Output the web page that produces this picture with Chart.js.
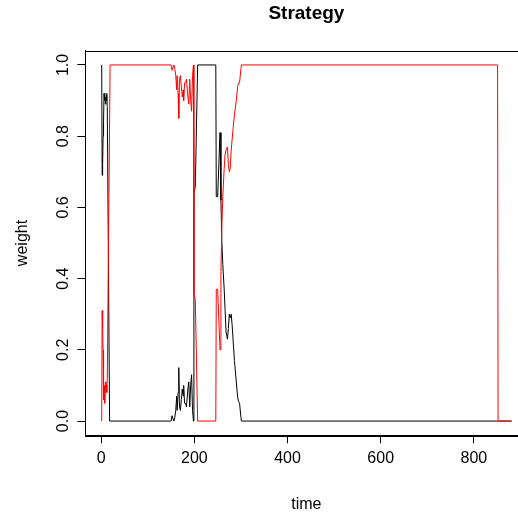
<!DOCTYPE html>
<html>
<head>
<meta charset="utf-8">
<title>Strategy</title>
<script src="https://cdn.jsdelivr.net/npm/chart.js@4.4.1/dist/chart.umd.min.js"></script>
<style>
  html, body { margin: 0; padding: 0; background: #fff; overflow: hidden; }
  #wrap { width: 518px; height: 514px; overflow: hidden; }
</style>
</head>
<body>
<div id="wrap"><canvas id="chart" width="530" height="514"></canvas></div>
<script>
// time steps where the weights change
const time = [
  1, 2, 3, 4, 5, 6, 7, 8, 9, 10, 11, 12, 13, 18, 19,
  150, 152, 154, 156, 158, 160, 162, 163, 165, 166.5, 168, 170, 172, 174, 176, 177,
  179, 181, 183, 186, 188, 190, 192, 194, 196, 198, 199, 202, 207,
  246, 247, 250, 255, 257, 259, 261, 264, 266, 268, 271, 273, 275, 277, 279, 281,
  283, 286, 290, 293, 295, 297, 300, 301,
  851, 852, 881
];
const blackWeight = [
  1.00, 0.69, 0.72, 0.80, 0.84, 0.92, 0.90, 0.92, 0.89, 0.91, 0.90, 0.92, 0.88, 0.00, 0.00,
  0.00, 0.015, 0.015, 0.00, 0.01, 0.03, 0.07, 0.03, 0.08, 0.15, 0.04, 0.03, 0.06, 0.09, 0.07, 0.10,
  0.05, 0.05, 0.04, 0.09, 0.11, 0.04, 0.10, 0.13, 0.03, 0.00, 0.64, 0.66, 1.00,
  1.00, 0.63, 0.63, 0.81, 0.62, 0.50, 0.44, 0.37, 0.31, 0.25, 0.23, 0.26, 0.30, 0.29, 0.30, 0.27,
  0.23, 0.17, 0.11, 0.065, 0.055, 0.05, 0.01, 0.00,
  0.00, 0.00, 0.00
];
const redWeight = [
  0.00, 0.31, 0.26, 0.20, 0.06, 0.08, 0.10, 0.05, 0.11, 0.09, 0.10, 0.08, 0.12, 0.85, 1.00,
  1.00, 0.985, 0.985, 1.00, 0.99, 0.97, 0.93, 0.97, 0.92, 0.85, 0.96, 0.97, 0.94, 0.91, 0.93, 0.90,
  0.95, 0.95, 0.96, 0.91, 0.89, 0.96, 0.90, 0.87, 0.97, 1.00, 0.36, 0.34, 0.00,
  0.00, 0.37, 0.37, 0.20, 0.42, 0.55, 0.63, 0.71, 0.75, 0.76, 0.77, 0.72, 0.70, 0.71, 0.76, 0.79,
  0.82, 0.86, 0.90, 0.94, 0.95, 0.95, 0.99, 1.00,
  1.00, 0.00, 0.00
];
const xTicks = [0, 200, 400, 600, 800];
const yTicks = [0, 0.2, 0.4, 0.6, 0.8, 1.0];
const yTickLabels = ['0.0', '0.2', '0.4', '0.6', '0.8', '1.0'];

const FONT = "'Liberation Sans', Arial, Helvetica, sans-serif";

function toPoints(ws) {
  return time.map((t, i) => ({ x: t, y: ws[i] }));
}

// R style box, y labels parallel to the axis, main title
const boxPlugin = {
  id: 'rbox',
  afterDraw(chart) {
    const { ctx, chartArea: a, scales } = chart;
    ctx.save();
    ctx.strokeStyle = '#000';
    ctx.lineWidth = 1;
    ctx.strokeRect(Math.round(a.left) + 0.5, Math.round(a.top) + 0.5,
      Math.round(a.right - a.left), Math.round(a.bottom - a.top));

    ctx.fillStyle = '#000';
    ctx.font = '16px ' + FONT;
    ctx.textAlign = 'center';
    ctx.textBaseline = 'alphabetic';
    yTicks.forEach((v, i) => {
      const y = scales.y.getPixelForValue(v);
      ctx.save();
      ctx.translate(68, y);
      ctx.rotate(-Math.PI / 2);
      ctx.fillText(yTickLabels[i], 0, 0);
      ctx.restore();
    });

    ctx.font = 'bold 19px ' + FONT;
    ctx.fillText('Strategy', (a.left + a.right) / 2, 19);
    ctx.restore();
  }
};

new Chart(document.getElementById('chart'), {
  type: 'line',
  data: {
    datasets: [
      {
        label: 'red',
        data: toPoints(redWeight),
        borderColor: '#ff0000',
        borderWidth: 1,
        pointRadius: 0,
        tension: 0
      },
      {
        label: 'black',
        data: toPoints(blackWeight),
        borderColor: '#000000',
        borderWidth: 1,
        pointRadius: 0,
        tension: 0
      }
    ]
  },
  options: {
    responsive: false,
    animation: false,
    devicePixelRatio: 1,
    layout: { padding: { top: 50.7, right: 2.5, left: 0, bottom: 0 } },
    plugins: {
      legend: { display: false },
      tooltip: { enabled: false },
      title: { display: false }
    },
    scales: {
      x: {
        type: 'linear',
        min: -34.2,
        max: 915.2,
        afterBuildTicks: s => { s.ticks = xTicks.map(v => ({ value: v })); },
        afterFit: s => { s.height = 78.7; },
        grid: { display: true, drawOnChartArea: false, drawTicks: true, tickLength: 8, color: '#000' },
        border: { display: true, color: '#000', width: 1 },
        ticks: {
          color: '#000',
          font: { family: FONT, size: 16 },
          padding: 6,
          maxRotation: 0,
          autoSkip: false,
          callback: v => String(v)
        },
        title: {
          display: true,
          text: 'time',
          color: '#000',
          font: { family: FONT, size: 16 },
          padding: { top: 0, bottom: 0 }
        }
      },
      y: {
        type: 'linear',
        min: -0.04,
        max: 1.04,
        afterBuildTicks: s => { s.ticks = yTicks.map(v => ({ value: v })); },
        afterFit: s => { s.width = 85.3; },
        grid: { display: true, drawOnChartArea: false, drawTicks: true, tickLength: 8, color: '#000' },
        border: { display: true, color: '#000', width: 1 },
        ticks: { display: false },
        title: {
          display: true,
          text: 'weight',
          color: '#000',
          font: { family: FONT, size: 16 },
          padding: { top: 13, bottom: 0 }
        }
      }
    }
  },
  plugins: [boxPlugin]
});
</script>
</body>
</html>
